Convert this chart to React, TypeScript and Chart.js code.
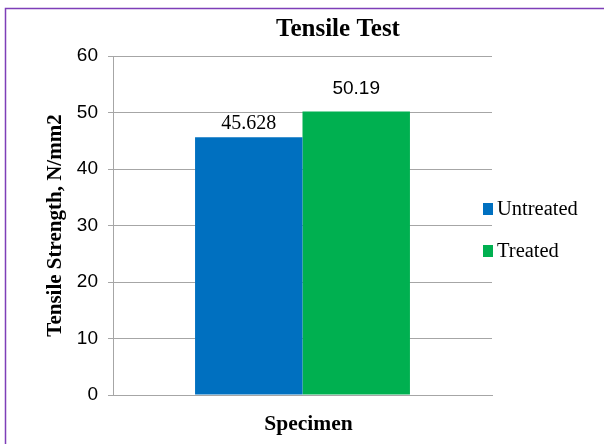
import React, { useEffect, useRef } from "react";
import { Chart, registerables } from "chart.js";

Chart.register(...registerables);

const categories = [""];
const seriesNames = ["Untreated", "Treated"];
const untreatedValues = [45.628];
const treatedValues = [50.19];
const seriesColors = ["#0070C0", "#00B050"];
const yTickMin = 0;
const yTickMax = 60;
const yTickStep = 10;

const chartTitle = "Tensile Test";
const xTitle = "Specimen";
const yTitle = "Tensile Strength, N/mm2";

// styling of the per-dataset value labels (Excel used different fonts for each)
const labelStyles = [
  { font: "20px 'Liberation Serif'", gap: 13 },
  { font: "19px 'Liberation Sans'", gap: 23 },
];

const decorPlugin = {
  id: "decor",
  afterDatasetsDraw(chart: any) {
    const ctx = chart.ctx as CanvasRenderingContext2D;
    const area = chart.chartArea;
    ctx.save();
    // outer border (left + top visible)
    ctx.strokeStyle = "#7E3FB8";
    ctx.lineWidth = 1.5;
    ctx.beginPath();
    ctx.moveTo(5.5, 444);
    ctx.lineTo(5.5, 8.5);
    ctx.lineTo(604, 8.5);
    ctx.stroke();

    ctx.fillStyle = "#000";
    // title
    ctx.font = "bold 25px 'Liberation Serif'";
    ctx.textAlign = "center";
    ctx.textBaseline = "middle";
    ctx.fillText(chartTitle, 338, 30);

    // x title
    ctx.font = "bold 21.5px 'Liberation Serif'";
    ctx.fillText(xTitle, (area.left + area.right) / 2 + 6, 424);

    // y title
    ctx.save();
    ctx.translate(56, (area.top + area.bottom) / 2);
    ctx.rotate(-Math.PI / 2);
    ctx.font = "bold 21px 'Liberation Serif'";
    ctx.fillText(yTitle, 0, 0);
    ctx.restore();

    // value labels
    chart.data.datasets.forEach((ds: any, i: number) => {
      const meta = chart.getDatasetMeta(i);
      meta.data.forEach((bar: any, j: number) => {
        const st = labelStyles[i] || labelStyles[0];
        ctx.font = st.font;
        ctx.textAlign = "center";
        ctx.textBaseline = "middle";
        ctx.fillText(String(ds.data[j]), bar.x, bar.y - st.gap);
      });
    });

    // legend
    const lx = area.right - 9;
    chart.data.datasets.forEach((ds: any, i: number) => {
      const cy = 209 + i * 42;
      ctx.fillStyle = ds.backgroundColor;
      ctx.fillRect(lx, cy - 6, 10, 12);
      ctx.fillStyle = "#000";
      ctx.font = "20.5px 'Liberation Serif'";
      ctx.textAlign = "left";
      ctx.textBaseline = "middle";
      ctx.fillText(ds.label, lx + 14, cy + 1);
    });
    ctx.restore();
  },
};

export default function App() {
  const ref = useRef<HTMLCanvasElement>(null);
  useEffect(() => {
    if (!ref.current) return;
    const chart = new Chart(ref.current, {
      type: "bar",
      data: {
        labels: categories,
        datasets: [
          { label: seriesNames[0], data: untreatedValues, backgroundColor: seriesColors[0] },
          { label: seriesNames[1], data: treatedValues, backgroundColor: seriesColors[1] },
        ],
      },
      options: {
        animation: false,
        responsive: false,
        devicePixelRatio: 1,
        categoryPercentage: 0.567,
        barPercentage: 1,
        layout: { padding: { top: 56, right: 112, left: 0, bottom: 0 } },
        plugins: {
          legend: { display: false },
          title: { display: false },
          tooltip: { enabled: false },
        },
        scales: {
          x: {
            ticks: { display: false },
            grid: { display: false },
            border: { display: true, color: "#A6A6A6", width: 1 },
            afterFit: (s: any) => {
              s.height = 49;
            },
          },
          y: {
            min: yTickMin,
            max: yTickMax,
            ticks: {
              stepSize: yTickStep,
              color: "#000",
              font: { family: "'Liberation Sans'", size: 19 },
              padding: 10,
            },
            grid: { color: "#A6A6A6", tickLength: 5, drawTicks: true },
            border: { display: true, color: "#A6A6A6", width: 1 },
            afterFit: (s: any) => {
              s.width = 113;
            },
          },
        },
      } as any,
      plugins: [decorPlugin],
    });
    return () => chart.destroy();
  }, []);
  return (
    <div style={{ position: "absolute", left: 0, top: 0, width: 604, height: 444, background: "#fff" }}>
      <canvas ref={ref} width={604} height={444} />
    </div>
  );
}
